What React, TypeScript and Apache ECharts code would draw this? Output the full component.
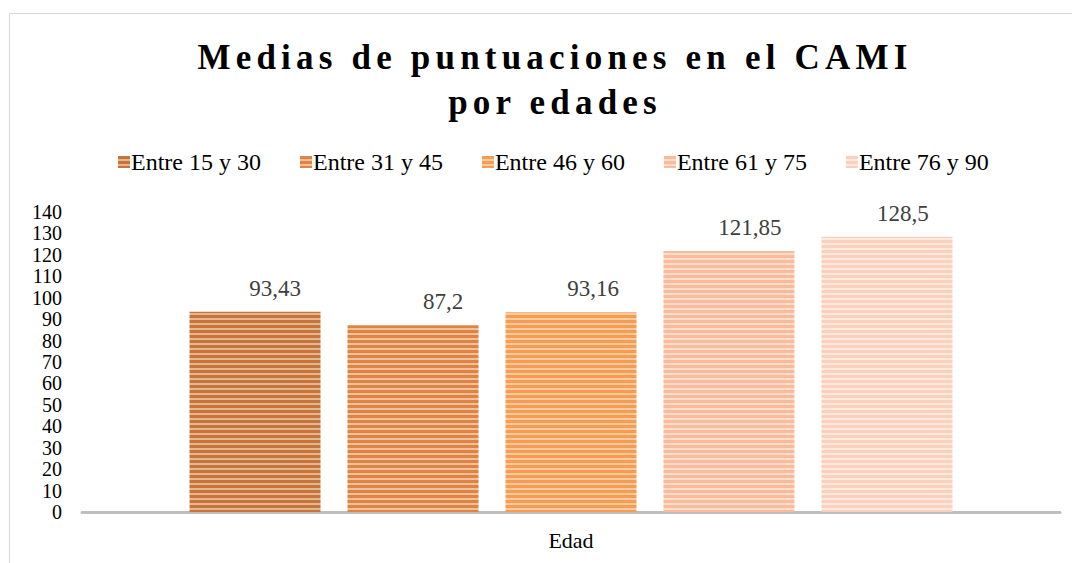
import React, { useEffect, useRef } from "react";
import * as echarts from "echarts";

const titleLines = ["Medias de puntuaciones en el CAMI", "por edades"];
const categories = ["Edad"];
const seriesNames = ["Entre 15 y 30", "Entre 31 y 45", "Entre 46 y 60", "Entre 61 y 75", "Entre 76 y 90"];
const seriesValues = [93.43, 87.2, 93.16, 121.85, 128.5];
const darkColors = ["#C4743C", "#DE8546", "#F59C55", "#F8BB9C", "#FBD0BC"];
const lightColors = ["#E9B58C", "#F2C199", "#FBCB9D", "#FCDCCB", "#FDE9DF"];
const labelOffsets = [20, 30, 22, 21, 16];
const yTicks = { min: 0, max: 140, interval: 10 };

function makePattern(dark: string, light: string) {
  const c = document.createElement("canvas");
  c.width = 4;
  c.height = 5;
  const ctx = c.getContext("2d")!;
  ctx.fillStyle = dark;
  ctx.fillRect(0, 0, 4, 5);
  ctx.fillStyle = light;
  ctx.fillRect(0, 3, 4, 2);
  return { image: c, repeat: "repeat" as const };
}

export default function App() {
  const ref = useRef<HTMLDivElement>(null);
  useEffect(() => {
    if (!ref.current) return;
    const chart = echarts.init(ref.current, undefined, { renderer: "svg" });
    const font = "Liberation Serif";
    chart.setOption({
      animation: false,
      backgroundColor: "#ffffff",
      textStyle: { fontFamily: font },
      graphic: [
        {
          type: "rect",
          shape: { x: 9.5, y: 13.5, width: 1100, height: 600 },
          style: { fill: "none", stroke: "#D9D9D9", lineWidth: 1 },
          silent: true,
        },
      ],
      title: {
        text: titleLines.join("\n"),
        left: 550,
        textAlign: "center",
        top: 30,
        textStyle: {
          fontFamily: font,
          fontWeight: "bold",
          fontSize: 35,
          lineHeight: 45,
          color: "#000000",
        },
      },
      legend: {
        top: 145,
        left: 113,
        itemWidth: 12,
        itemHeight: 12,
        itemGap: 39,
        icon: "rect",
        textStyle: { fontFamily: font, fontSize: 24, color: "#000000", padding: [0, 0, 0, -4] },
        data: seriesNames,
      },
      grid: { left: 82, right: 12, top: 212, bottom: 51, containLabel: false },
      xAxis: {
        type: "category",
        data: categories,
        axisLine: { lineStyle: { color: "#BFBFBF", width: 3 } },
        axisTick: { show: false },
        axisLabel: { fontFamily: font, fontSize: 22, color: "#000000", margin: 17 },
      },
      yAxis: {
        type: "value",
        min: yTicks.min,
        max: yTicks.max,
        interval: yTicks.interval,
        splitLine: { show: false },
        axisLine: { show: false },
        axisTick: { show: false },
        axisLabel: { fontFamily: font, fontSize: 20, color: "#000000", margin: 20, lineHeight: 20 },
      },
      series: seriesNames.map((name, i) => ({
        type: "bar",
        name,
        data: [seriesValues[i]],
        barWidth: 131,
        barGap: "20.6%",
        itemStyle: { color: makePattern(darkColors[i], lightColors[i]) },
        label: {
          show: true,
          position: "top",
          distance: 12,
          offset: [labelOffsets[i], 0],
          fontFamily: font,
          fontSize: 23,
          color: "#404040",
          formatter: (p: any) => String(p.value).replace(".", ","),
        },
      })),
    });
    return () => chart.dispose();
  }, []);
  return (
    <>
      <style>{`body{margin:0} .chartbox text[style*="bold"]{letter-spacing:5.2px}`}</style>
      <div
        ref={ref}
        className="chartbox"
        style={{ position: "absolute", left: 0, top: 0, width: 1072, height: 563 }}
      />
    </>
  );
}
